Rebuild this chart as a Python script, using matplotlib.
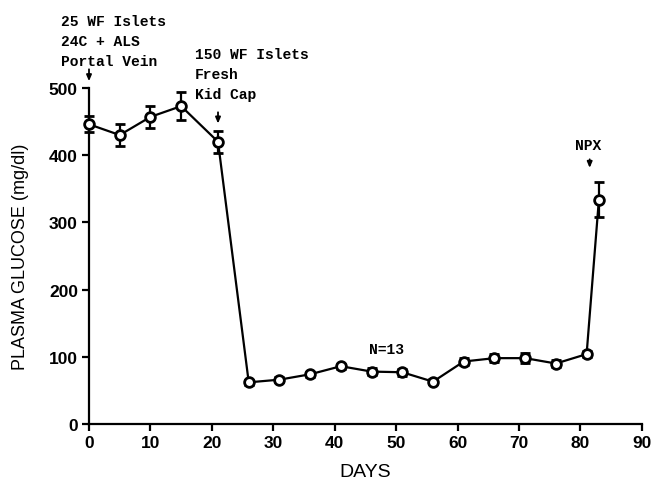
import matplotlib
matplotlib.use("Agg")
import matplotlib.pyplot as plt

days = [0, 5, 10, 15, 21, 26, 31, 36, 41, 46, 51, 56, 61, 66, 71, 76, 81, 83]
glucose = [446, 430, 457, 473, 420, 62, 66, 74, 86, 78, 77, 63, 93, 98, 98, 90, 104, 334]
sem = [12, 17, 16, 21, 16, 4, 4, 4, 4, 5, 5, 4, 5, 6, 7, 5, 5, 26]

xticks = [0, 10, 20, 30, 40, 50, 60, 70, 80, 90]
yticks = [0, 100, 200, 300, 400, 500]

fig = plt.figure(figsize=(6.53, 4.85), dpi=100)
ax = fig.add_axes([0.1363, 0.1237, 0.8467, 0.6928])

ax.errorbar(days, glucose, yerr=sem, color="black", lw=1.6, marker="o", ms=7,
            mfc="white", mec="black", mew=2.0, capsize=3.5, capthick=1.6,
            elinewidth=1.6, clip_on=False, zorder=3)

ax.set_xlim(0, 90)
ax.set_ylim(0, 500)
ax.set_xticks(xticks)
ax.set_yticks(yticks)
for s in ["top", "right"]:
    ax.spines[s].set_visible(False)
for s in ["left", "bottom"]:
    ax.spines[s].set_linewidth(1.6)
ax.tick_params(direction="out", length=5, width=1.6, labelsize=12.5, pad=3)
for lab in ax.get_xticklabels() + ax.get_yticklabels():
    lab.set_fontweight("bold")
    lab.set_family("Liberation Sans")

ax.set_xlabel("DAYS", fontsize=14, family="Liberation Sans", labelpad=9)
ax.set_ylabel("PLASMA GLUCOSE (mg/dl)", fontsize=13, family="Liberation Sans", labelpad=14)

afont = dict(family="Liberation Mono", fontweight="bold", fontsize=10.5, linespacing=1.55)
ax.text(-4.6, 570, "25 WF Islets\n24C + ALS\nPortal Vein", ha="left", va="center", **afont,
        clip_on=False)
ax.text(17.2, 521, "150 WF Islets\nFresh\nKid Cap", ha="left", va="center", **afont,
        clip_on=False)
ax.text(81.3, 415, "NPX", ha="center", va="center", **afont)
ax.text(48.5, 112, "N=13", ha="center", va="center", **afont)

arrow = dict(arrowstyle="-|>,head_length=0.35,head_width=0.15", color="black", lw=1.3)
ax.annotate("", xy=(0, 506), xytext=(0, 532), arrowprops=arrow, annotation_clip=False)
ax.annotate("", xy=(21, 443), xytext=(21, 468), arrowprops=arrow, annotation_clip=False)
ax.annotate("", xy=(81.5, 377), xytext=(81.5, 398), arrowprops=arrow, annotation_clip=False)

fig.savefig("out.png", dpi=100)
